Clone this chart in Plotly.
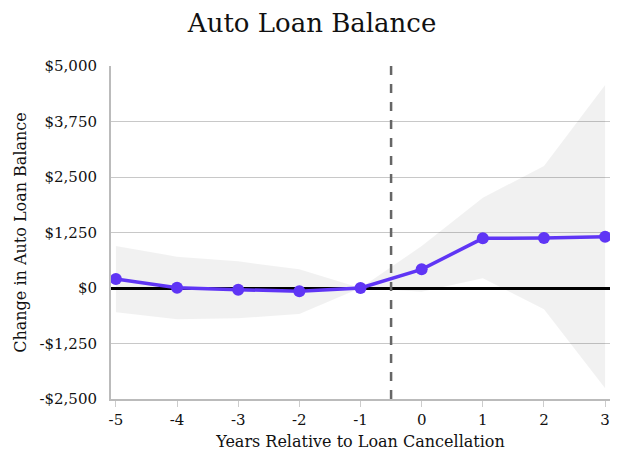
import plotly.graph_objects as go

# Event-study estimates for auto loan balance, by year relative to cancellation
years = [-5, -4, -3, -2, -1, 0, 1, 2, 3]
estimate = [203, 8, -37, -75, 0, 420, 1118, 1126, 1156]
ci_upper = [946, 706, 601, 420, 0, 945, 2034, 2748, 4572]
ci_lower = [-547, -705, -683, -586, 0, -83, 218, -480, -2259]

y_ticks = [-2500, -1250, 0, 1250, 2500, 3750, 5000]
y_tick_text = ["-$2,500", "-$1,250", "$0", "$1,250", "$2,500", "$3,750", "$5,000"]

font_family = "DejaVu Serif"

fig = go.Figure()

# Confidence band
fig.add_trace(go.Scatter(
    x=years, y=ci_upper, mode="lines", line=dict(width=0),
    hoverinfo="skip", showlegend=False,
))
fig.add_trace(go.Scatter(
    x=years, y=ci_lower, mode="lines", line=dict(width=0),
    fill="tonexty", fillcolor="rgba(0,0,0,0.055)",
    hoverinfo="skip", showlegend=False,
))

# Point estimates
fig.add_trace(go.Scatter(
    x=years, y=estimate, mode="lines+markers",
    line=dict(color="#5f35f5", width=3.5),
    marker=dict(color="#5f35f5", size=12),
    showlegend=False,
))

# Cancellation marker
fig.add_shape(
    type="line", xref="x", yref="paper", x0=-0.5, x1=-0.5, y0=0, y1=1,
    line=dict(color="#666666", width=2.5, dash="dash"),
)

fig.update_layout(
    width=618, height=455,
    margin=dict(l=111, r=8, t=66, b=56),
    paper_bgcolor="white", plot_bgcolor="white",
    font=dict(family=font_family, color="#111111", size=15),
    title=dict(text="Auto Loan Balance", x=0.505, xanchor="center",
               y=0.95, yanchor="middle",
               font=dict(family=font_family, size=26, color="#111111")),
    xaxis=dict(
        range=[-5.08, 3.08], tickmode="array", tickvals=years,
        ticktext=[str(v) for v in years],
        showgrid=False, zeroline=False,
        showline=True, linecolor="#bbbbbb", linewidth=2,
        ticks="outside", tickcolor="#cccccc", ticklen=6, tickwidth=1,
        tickfont=dict(size=15),
        title=dict(text="Years Relative to Loan Cancellation",
                   font=dict(size=16), standoff=8),
    ),
    yaxis=dict(
        range=[-2500, 5000], tickmode="array", tickvals=y_ticks,
        ticktext=y_tick_text,
        showgrid=True, gridcolor="#c8c8c8", gridwidth=1,
        zeroline=True, zerolinecolor="#000000", zerolinewidth=2.5,
        showline=True, linecolor="#bbbbbb", linewidth=2,
        ticks="", tickfont=dict(size=15), ticklabelstandoff=9,
        title=dict(text="Change in Auto Loan Balance",
                   font=dict(size=16), standoff=9),
    ),
)

fig.write_html("out.html")
